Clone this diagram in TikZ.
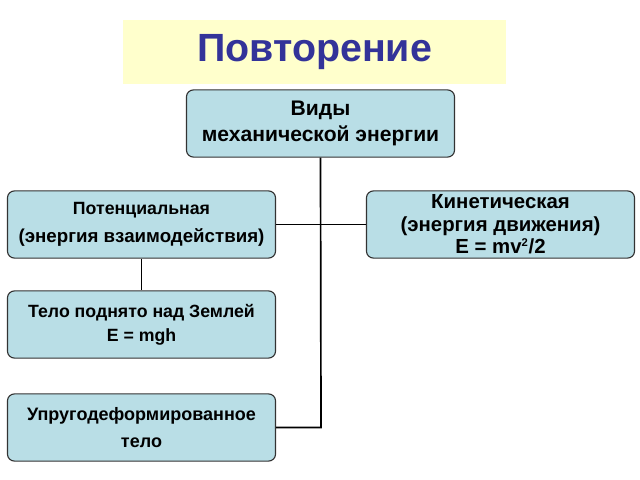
\documentclass[tikz,border=0pt]{standalone}
\usepackage{fontspec}
\setmainfont{Liberation Sans}
\usetikzlibrary{positioning}
\definecolor{boxfill}{HTML}{B9DEE6}
\definecolor{titlefill}{HTML}{FFFFCC}
\definecolor{titleblue}{HTML}{333399}
\tikzset{
  box/.style={draw=black!80, line width=0.8pt, fill=boxfill, rounded corners=5pt,
    minimum width=6.7cm, minimum height=1.68cm, align=center, inner sep=1pt},
  link/.style={line width=1.2pt}
}
\begin{document}
\begin{tikzpicture}[x=0.025cm,y=-0.025cm]
    \useasboundingbox (0,0) rectangle (640,480);
    % title
    \node (title) [fill=titlefill, minimum width=9.575cm, minimum height=1.6cm,
      font=\bfseries\fontsize{28}{32}\selectfont, text=titleblue] at (314.5,52) {Повторение};
    % boxes
    \node (kinds) [box, font=\bfseries\fontsize{15}{18}\selectfont] at (320.5,123.5) {Виды\\механической энергии};
    \node (pot) [box, font=\bfseries\fontsize{13.3}{20}\selectfont] at (141.5,224.5) {\fontsize{12.6}{20}\selectfont Потенциальная\\(энергия взаимодействия)};
    \node (kin) [box, font=\bfseries\fontsize{14.5}{16}\selectfont] at (500.5,224.5) {Кинетическая\\(энергия движения)\\E = mv\textsuperscript{\fontsize{8}{8}\selectfont 2}/2};
    \node (lift) [box, font=\bfseries\fontsize{12.6}{17}\selectfont] at (141.5,324.5) {Тело поднято над Землей\\E = mgh};
    \node (elast) [box, font=\bfseries\fontsize{12.8}{19}\selectfont] at (141.5,427.5) {Упругодеформированное\\тело};
    % connectors
    \coordinate (bend) at (321,427.5);
    \draw[link] (kinds.south) -- (bend) -- (elast.east);
    \draw[link] (pot.east) -- (kin.west);
    \draw[link] (pot.south) -- (lift.north);
\end{tikzpicture}
\end{document}
